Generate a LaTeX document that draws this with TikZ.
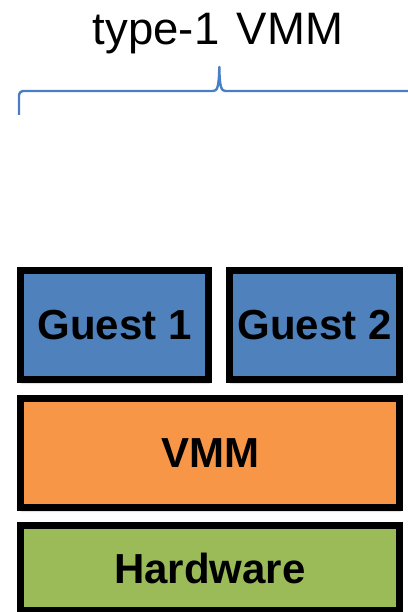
\documentclass[tikz,border=0pt]{standalone}
\usepackage{fontspec}
\setmainfont{Liberation Sans}
\usetikzlibrary{shadows.blur}
\definecolor{braceblue}{HTML}{4A7EC4}
\definecolor{guestblue}{HTML}{4F81BD}
\definecolor{vmmorange}{HTML}{F79646}
\definecolor{hwgreen}{HTML}{9BBB59}
\tikzset{
  layer/.style={draw=black, line width=7pt, rectangle, inner sep=0pt, outer sep=0pt,
    font=\fontsize{42}{48}\selectfont\bfseries,
    blur shadow={shadow xshift=1pt, shadow yshift=-3pt, shadow blur steps=6,
                 shadow blur radius=2pt, shadow opacity=45}},
  bracket/.style={draw=braceblue, line width=2.4pt, line join=round}
}
\begin{document}
\begin{tikzpicture}[x=1pt, y=-1pt]
  \useasboundingbox (0,0) rectangle (407,612);
  % heading
  \node[anchor=base, inner sep=0pt, font=\fontsize{45.5}{52}\selectfont] (title) at (218,45) {type-1\hspace{5pt} VMM};
  % curly bracket under the heading
  \coordinate (bl) at (19,115);
  \coordinate (br) at (412,91);
  \draw[bracket, rounded corners=4pt] (bl) -- (19,91) -- (213,91);
  \draw[bracket] (213,91) .. controls (217,91) and (219,88) .. (219.3,67)
                 .. controls (219.6,88) and (221.5,91) .. (225.5,91) -- (br);
  % stacked layers
  \node[layer, fill=guestblue, minimum width=188pt, minimum height=109pt] (g1) at (114.5,325) {Guest 1};
  \node[layer, fill=guestblue, minimum width=170pt, minimum height=109pt] (g2) at (314.5,325) {Guest 2};
  \node[layer, fill=vmmorange, minimum width=379pt, minimum height=109pt] (vmm) at (210,453) {VMM};
  \node[layer, fill=hwgreen, minimum width=379pt, minimum height=85pt] (hw) at (210,568) {Hardware};
\end{tikzpicture}
\end{document}
